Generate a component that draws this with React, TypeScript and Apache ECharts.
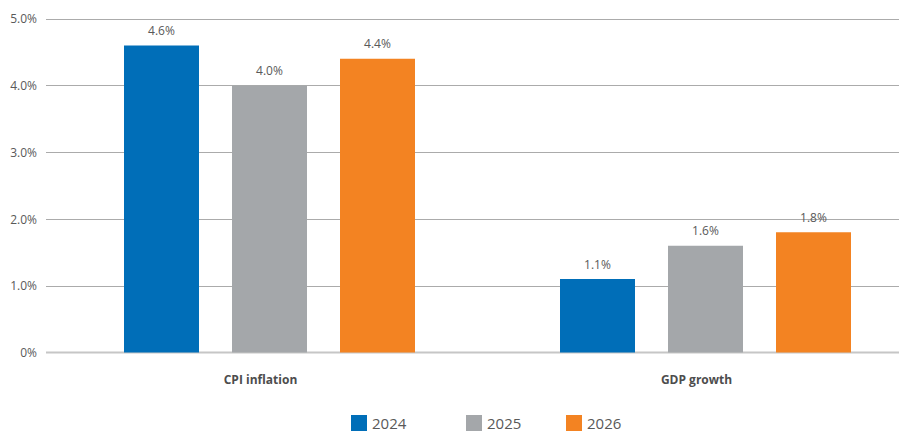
import React, { useEffect, useRef } from "react";
import * as echarts from "echarts";

// A blank middle category spaces the two groups as in the reference
const categories = ["CPI inflation", "", "GDP growth"];
const seriesNames = ["2024", "2025", "2026"];
const values2024 = [4.6, null, 1.1];
const values2025 = [4.0, null, 1.6];
const values2026 = [4.4, null, 1.8];
const colors = ["#006EB8", "#A4A7AA", "#F38322"];
const legendLefts = [351, 466, 566];

const FONT = "'Open Sans', sans-serif";

export default function App() {
  const ref = useRef<HTMLDivElement>(null);
  useEffect(() => {
    if (!ref.current) return;
    const chart = echarts.init(ref.current, undefined, { renderer: "svg" });
    const data = [values2024, values2025, values2026];
    const option: any = {
      animation: false,
      textStyle: { fontFamily: FONT },
      grid: [
        { left: 46, right: 0, top: 18.75, bottom: 79.5 },
        { left: 160.5, width: 654, top: 18.75, bottom: 79.5 },
      ],
      legend: seriesNames.map((n, i) => ({
        data: [n],
        left: legendLefts[i],
        top: 415,
        itemWidth: 16,
        itemHeight: 16,
        itemGap: 5,
        padding: 0,
        icon: "rect",
        textStyle: { fontSize: 15, color: "#595959", fontFamily: FONT },
      })),
      xAxis: [
        {
          type: "category",
          gridIndex: 0,
          data: ["a", "b"],
          show: false,
        },
        {
          type: "category",
          gridIndex: 1,
          data: categories,
          axisLine: { show: false },
          axisTick: { show: false },
          axisLabel: {
            interval: 0,
            fontSize: 12,
            fontWeight: "bold",
            color: "#4D4D4D",
            margin: 21,
            fontFamily: FONT,
            padding: [0, 18, 0, 0],
          },
        },
      ],
      yAxis: [
        {
          type: "value",
          gridIndex: 0,
          min: 0,
          max: 5,
          interval: 1,
          axisLine: { show: false },
          axisTick: { show: false },
          axisLabel: {
            fontSize: 12,
            color: "#595959",
            margin: 9,
            fontFamily: FONT,
            formatter: (v: number) => (v === 0 ? "0%" : v.toFixed(1) + "%"),
          },
          splitLine: { lineStyle: { color: "#ABABAB", width: 1 } },
        },
        {
          type: "value",
          gridIndex: 1,
          min: 0,
          max: 5,
          interval: 1,
          show: false,
          splitLine: { show: false },
        },
      ],
      series: seriesNames.map((n, i) => ({
        name: n,
        type: "bar",
        xAxisIndex: 1,
        yAxisIndex: 1,
        data: data[i],
        barWidth: 75,
        barGap: "44%",
        clip: false,
        itemStyle: { color: colors[i] },
        label: {
          show: true,
          position: "top",
          distance: 9,
          fontSize: 12,
          color: "#595959",
          fontFamily: FONT,
          formatter: (p: any) => (p.value == null ? "" : p.value.toFixed(1) + "%"),
        },
      })),
      graphic: [
        {
          type: "line",
          shape: { x1: 46, y1: 352.5, x2: 899, y2: 352.5 },
          style: { stroke: "#C6C6C6", lineWidth: 2 },
          z: 1,
        },
      ],
    };
    chart.setOption(option);
    return () => chart.dispose();
  }, []);
  return <div ref={ref} style={{ width: 899, height: 432, position: "absolute", left: 0, top: 0 }} />;
}
